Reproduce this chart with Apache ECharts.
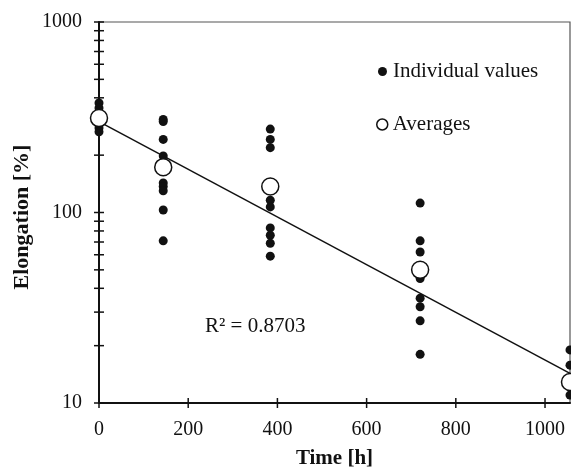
<!DOCTYPE html>
<html>
<head>
<meta charset="utf-8">
<script src="https://cdn.jsdelivr.net/npm/echarts@6/dist/echarts.min.js"></script>
<style>html,body{margin:0;padding:0;background:#fff;}#c{width:571px;height:469px;}</style>
</head>
<body>
<div id="c"></div>
<script>
// Data
const individualValues = [
  [0, 376], [0, 354], [0, 278], [0, 265],
  [144, 308], [144, 300], [144, 242], [144, 198], [144, 143], [144, 137], [144, 130], [144, 103], [144, 71],
  [384, 274], [384, 242], [384, 219], [384, 116], [384, 107], [384, 83], [384, 76], [384, 69], [384, 59],
  [720, 112], [720, 71], [720, 62], [720, 45], [720, 35.5], [720, 32], [720, 27], [720, 18],
  [1056, 19], [1056, 15.8], [1056, 11]
];
const averages = [[0, 313], [144, 173], [384, 137], [720, 50], [1056, 12.9]];
const trendLine = [[0, 300], [1056, 14.3]];
const xTickValues = [0, 200, 400, 600, 800, 1000];
const yTickValues = [10, 20, 30, 40, 50, 60, 70, 80, 90, 100, 200, 300, 400, 500, 600, 700, 800, 900, 1000];
const rSquaredLabel = 'R² = 0.8703';

const FONT = 'Liberation Serif';
const chart = echarts.init(document.getElementById('c'));

function tickSeries(values, isX) {
  return {
    type: 'custom', silent: true, clip: false, z: 5,
    data: values.map(v => isX ? [v, 10] : [0, v]),
    renderItem: function (params, api) {
      const p = api.coord([api.value(0), api.value(1)]);
      const shape = isX
        ? { x1: p[0], y1: p[1] - 5, x2: p[0], y2: p[1] + 5 }
        : { x1: p[0] - 5, y1: p[1], x2: p[0] + 5, y2: p[1] };
      return { type: 'line', shape: shape, style: { stroke: '#111', lineWidth: 1.5 } };
    }
  };
}

chart.setOption({
  animation: false,
  backgroundColor: '#fff',
  grid: { left: 99, top: 22, right: 1, bottom: 66, show: true, borderColor: '#555', borderWidth: 1.2,
    containLabel: false, outerBoundsMode: 'none' },
  xAxis: {
    type: 'value', min: 0, max: 1056, interval: 200,
    axisLine: { show: true, lineStyle: { color: '#111', width: 2 } },
    axisTick: { show: false },
    splitLine: { show: false },
    axisLabel: { color: '#111', fontFamily: FONT, fontSize: 20, margin: 17,
      formatter: v => (v % 200 === 0 ? String(v) : '') },
    name: 'Time [h]', nameLocation: 'middle', nameGap: 45,
    nameTextStyle: { color: '#111', fontFamily: FONT, fontSize: 21, fontWeight: 'bold' }
  },
  yAxis: {
    type: 'log', logBase: 10, min: 10, max: 1000,
    axisLine: { show: true, lineStyle: { color: '#111', width: 2 } },
    axisTick: { show: false },
    minorTick: { show: false },
    splitLine: { show: false },
    axisLabel: { color: '#111', fontFamily: FONT, fontSize: 20, margin: 17, formatter: v => String(Math.round(v)) }
  },
  legend: [
    { data: [{ name: 'Individual values', icon: 'circle' }], left: 378, top: 61, padding: 0,
      itemWidth: 9, itemHeight: 9, itemGap: 6,
      textStyle: { color: '#111', fontFamily: FONT, fontSize: 21, padding: [0, 0, 0, 1] } },
    { data: [{ name: 'Averages', icon: 'circle',
        itemStyle: { color: '#fff', borderColor: '#111', borderWidth: 1.5 } }],
      left: 376, top: 114, padding: 0, itemWidth: 11, itemHeight: 11, itemGap: 5,
      textStyle: { color: '#111', fontFamily: FONT, fontSize: 21, padding: [0, 0, 0, 0] } }
  ],
  graphic: [
    { type: 'text', left: 205, top: 316, style: { text: rSquaredLabel, fill: '#111', font: '21px "Liberation Serif"' } },
    { type: 'text', x: 22, y: 217, rotation: Math.PI / 2, style: { text: 'Elongation [%]', fill: '#111',
        font: 'bold 22px "Liberation Serif"', align: 'center', verticalAlign: 'middle' } }
  ],
  series: [
    { name: 'Trend', type: 'line', data: trendLine, symbol: 'none', z: 3,
      lineStyle: { color: '#111', width: 1.5 } },
    { name: 'Individual values', type: 'scatter', data: individualValues, symbol: 'circle', symbolSize: 9, z: 4,
      itemStyle: { color: '#111', opacity: 1 } },
    { name: 'Averages', type: 'scatter', data: averages, symbol: 'circle', symbolSize: 17, z: 6,
      itemStyle: { color: '#fff', borderColor: '#111', borderWidth: 1.5, opacity: 1 } },
    tickSeries(xTickValues, true),
    tickSeries(yTickValues, false)
  ]
});
</script>
</body>
</html>
